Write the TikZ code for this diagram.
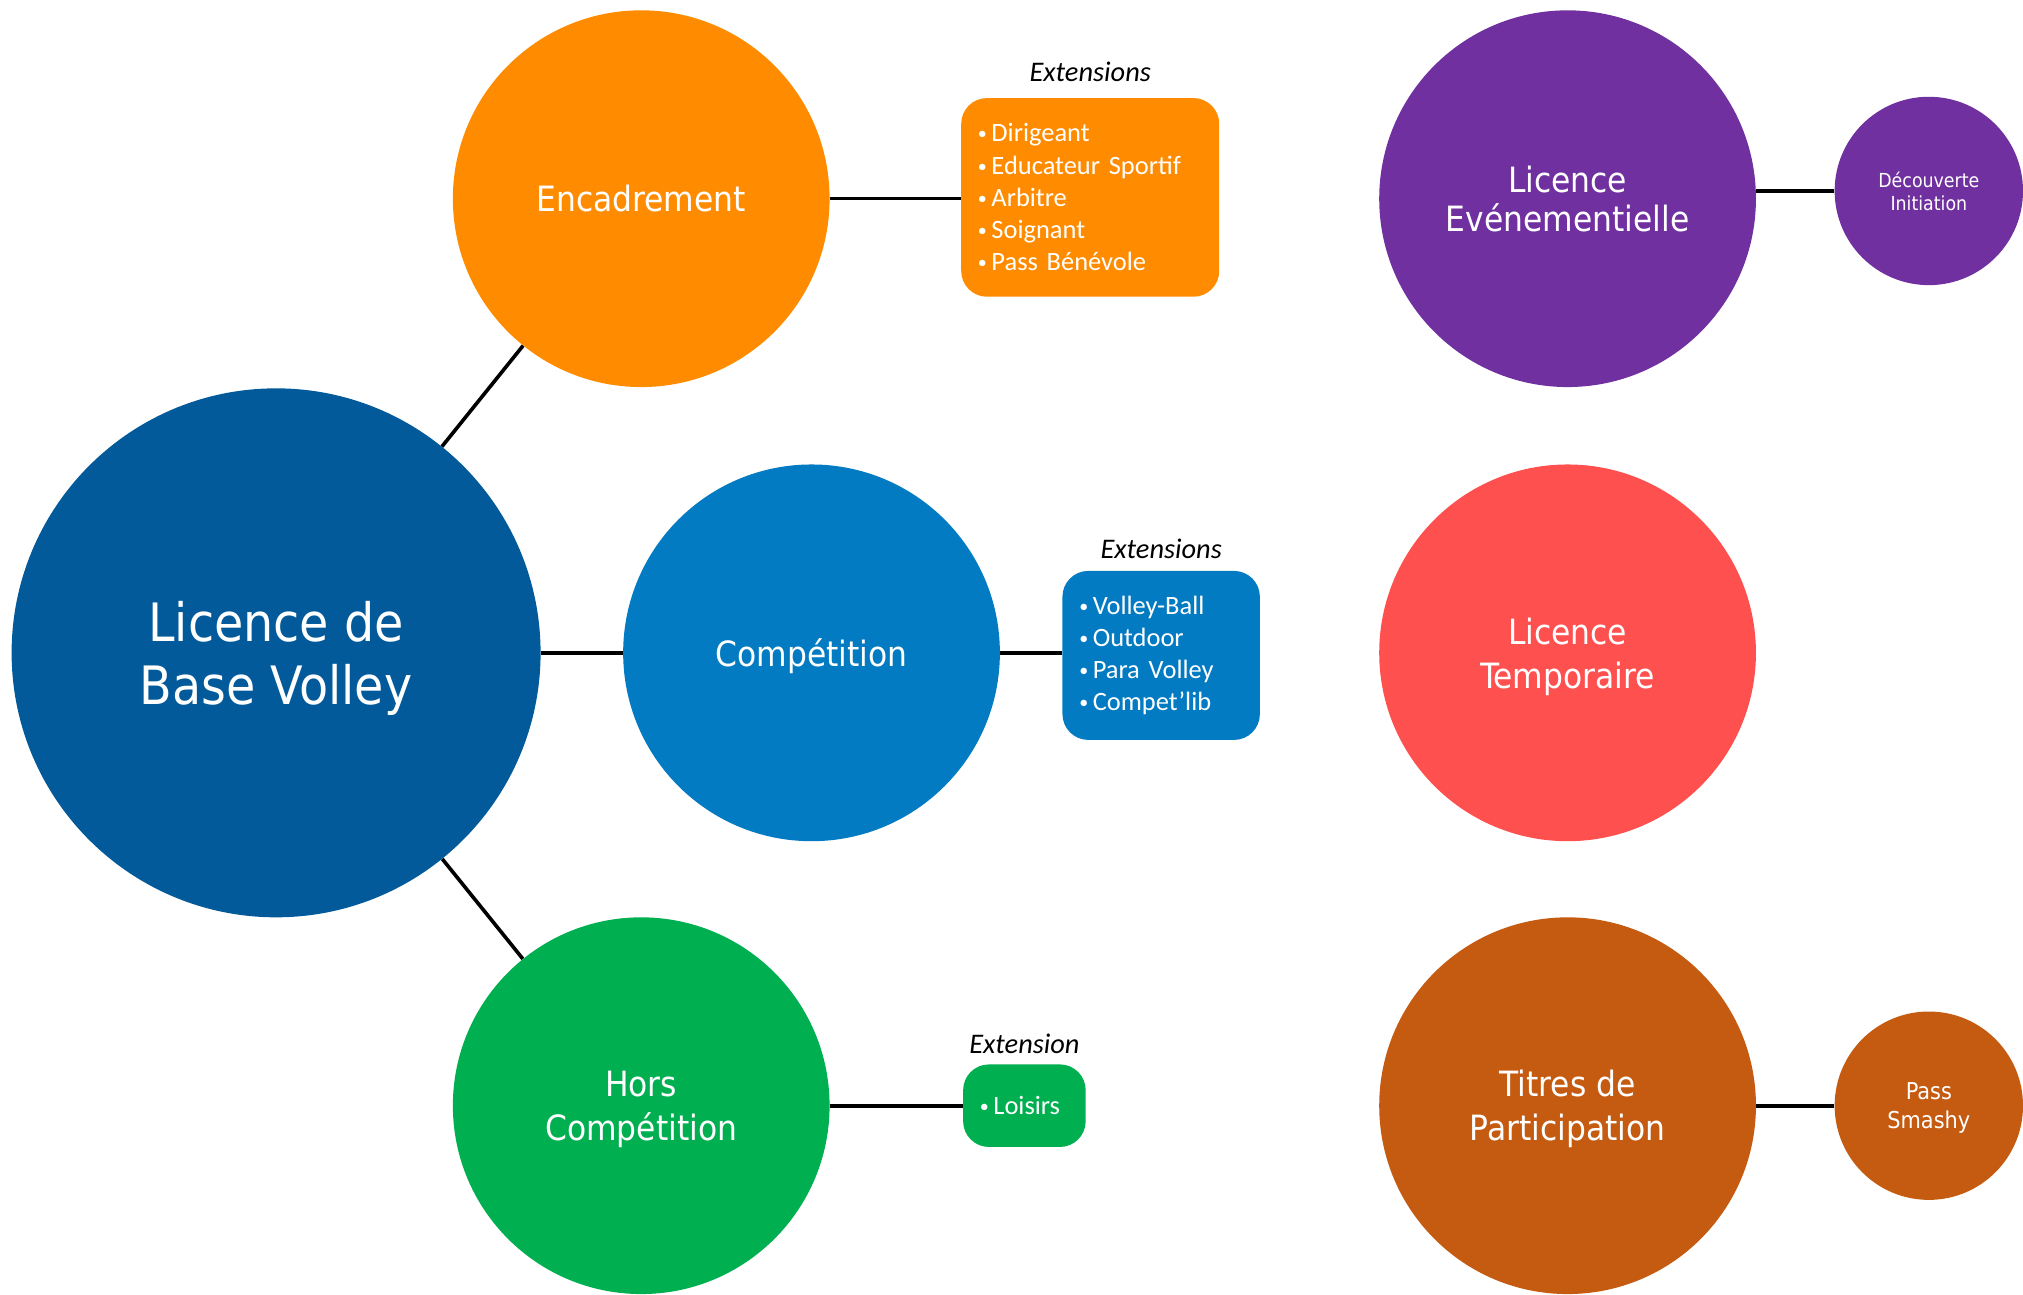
\documentclass[tikz,border=0pt]{standalone}
\usepackage{fontspec}
\usepackage{xcolor}
\setmainfont{Carlito}
\newfontfamily\bubblefont{DejaVu Sans Condensed}
\definecolor{base-blue}{HTML}{035A9A}
\definecolor{enc-orange}{HTML}{FF8C00}
\definecolor{comp-blue}{HTML}{037BC2}
\definecolor{hors-green}{HTML}{00B050}
\definecolor{event-purple}{HTML}{7030A0}
\definecolor{temp-red}{HTML}{FF5050}
\definecolor{titre-brown}{HTML}{C55A11}
\newcommand{\bul}{{\fontsize{14}{14}\selectfont\raisebox{1.5pt}{•}}\hspace{3.5pt}}
\tikzset{
    bubble/.style = {circle, fill=#1, draw=none, text=white, align=center, inner sep=0pt, text depth=0pt},
    big-bubble/.style = {bubble=#1, minimum size=410pt, font=\bubblefont\fontsize{41}{49}\selectfont},
    mid-bubble/.style = {bubble=#1, minimum size=292pt, font=\bubblefont\fontsize{27}{34}\selectfont},
    small-bubble/.style = {bubble=#1, minimum size=146pt},
    ext-box/.style = {fill=#1, text=white, rectangle, rounded corners=20pt, inner xsep=13pt, align=left, font=\fontsize{20.5}{25}\selectfont},
    ext-title/.style = {inner sep=0pt, font=\itshape\fontsize{22}{26}\selectfont},
    link/.style = {draw=black, line width=2.8pt},
}
\begin{document}
\begin{tikzpicture}[x=1pt, y=-1pt]
\useasboundingbox (0,0) rectangle (1568,1003);
% base licence and its three branches
\node[big-bubble=base-blue] (base) at (214,506) {Licence de\\Base Volley};
\node[mid-bubble=enc-orange] (enc) at (497,154) {Encadrement};
\node[mid-bubble=comp-blue] (comp) at (629,506) {Compétition};
\node[mid-bubble=hors-green] (hors) at (497,857) {Hors\\Compétition};
% extensions
\node[ext-box=enc-orange, text width=174pt, minimum height=154pt] (encext) at (845,153) {%
    \bul Dirigeant\\\bul Educateur Sportif\\\bul Arbitre\\\bul Soignant\\\bul Pass Bénévole};
\node[ext-title, above=12pt] at (encext.north) {Extensions};
\node[ext-box=comp-blue, text width=127pt, minimum height=131pt] (compext) at (900,508) {%
    \bul Volley-Ball\\\bul Outdoor\\\bul Para Volley\\\bul Compet’lib};
\node[ext-title, above=9pt] at (compext.north) {Extensions};
\node[ext-box=hors-green, text width=69pt, minimum height=64pt] (horsext) at (794,857) {\bul Loisirs};
\node[ext-title, above=8pt] at (horsext.north) {Extension};
% other licences
\node[mid-bubble=event-purple, font=\bubblefont\fontsize{27}{30}\selectfont] (event) at (1215,154) {Licence\\Evénementielle};
\node[mid-bubble=temp-red] (temp) at (1215,506) {Licence\\Temporaire};
\node[mid-bubble=titre-brown] (titre) at (1215,857) {Titres de\\Participation};
\node[small-bubble=event-purple, font=\bubblefont\fontsize{15}{18}\selectfont] (decouv) at (1495,148) {Découverte\\Initiation};
\node[small-bubble=titre-brown, font=\bubblefont\fontsize{18}{23}\selectfont] (smashy) at (1495,857) {Pass\\Smashy};
% connectors
\draw[link] (base) -- (enc);
\draw[link] (base) -- (comp);
\draw[link] (base) -- (hors);
\draw[link] (enc) -- (enc -| encext.west);
\draw[link] (comp) -- (comp -| compext.west);
\draw[link] (hors) -- (horsext);
\draw[link] (decouv) -- (decouv -| event.east);
\draw[link] (titre) -- (smashy);
\end{tikzpicture}
\end{document}
